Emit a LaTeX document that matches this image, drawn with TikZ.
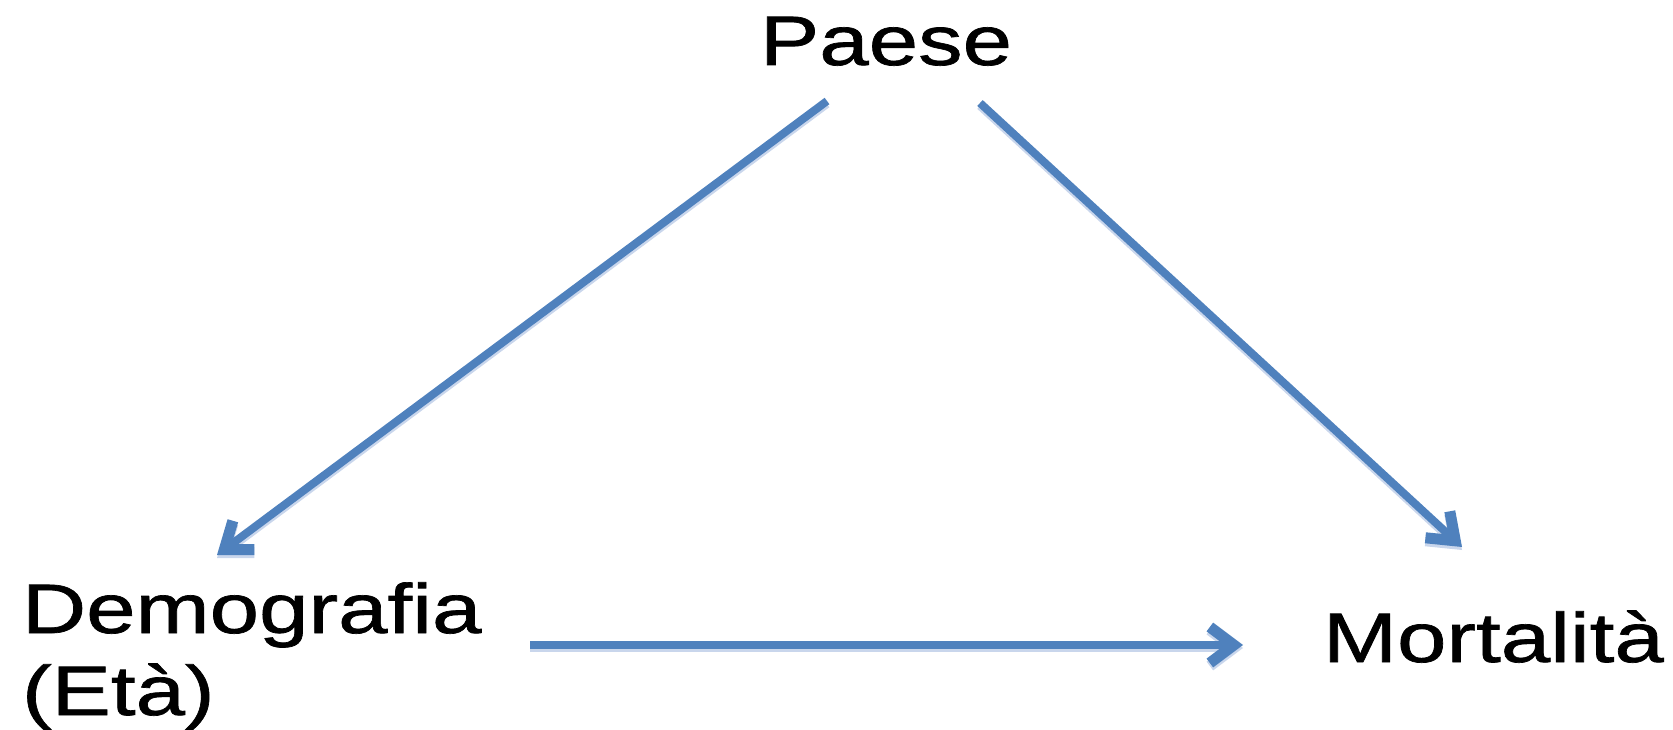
\documentclass[tikz,border=0pt]{standalone}
\usepackage{fontspec}
\newfontfamily\labelfont[FakeStretch=1.27,FakeBold=1]{Liberation Sans}
\usetikzlibrary{arrows.meta}
\definecolor{arrowblue}{HTML}{4F81BD}
\definecolor{arrowshade}{HTML}{C9D6EC}
\tikzset{
  label text/.style={inner sep=0pt, outer sep=0pt, anchor=base west,
    font=\labelfont\fontsize{70}{82}\selectfont, text=black},
  link/.style={draw=arrowblue, line width=8pt,
    -{Straight Barb[length=24pt,width=36pt,line width=11pt]},
    preaction={draw=arrowshade, line width=8pt, transform canvas={yshift=-3pt}}},
}
\begin{document}
\begin{tikzpicture}[x=1pt,y=-1pt]
  \useasboundingbox (0,0) rectangle (1673,730);
  \node[label text] (paese) at (760,65) {Paese};
  \node[label text, align=left] (demo) at (22,715) {Demografia\\(Età)};
  \node[label text] (mort) at (1323,662) {Mortalità};
  % causal links
  \draw[link] ([xshift=67pt,yshift=-36pt]paese.base west) -- ([xshift=195pt,yshift=160pt]demo.base west);
  \draw[link] ([xshift=220pt,yshift=-38pt]paese.base west) -- ([xshift=139pt,yshift=115pt]mort.base west);
  \draw[link] ([xshift=508pt,yshift=70pt]demo.base west) -- ([xshift=-80pt,yshift=17pt]mort.base west);
\end{tikzpicture}
\end{document}
